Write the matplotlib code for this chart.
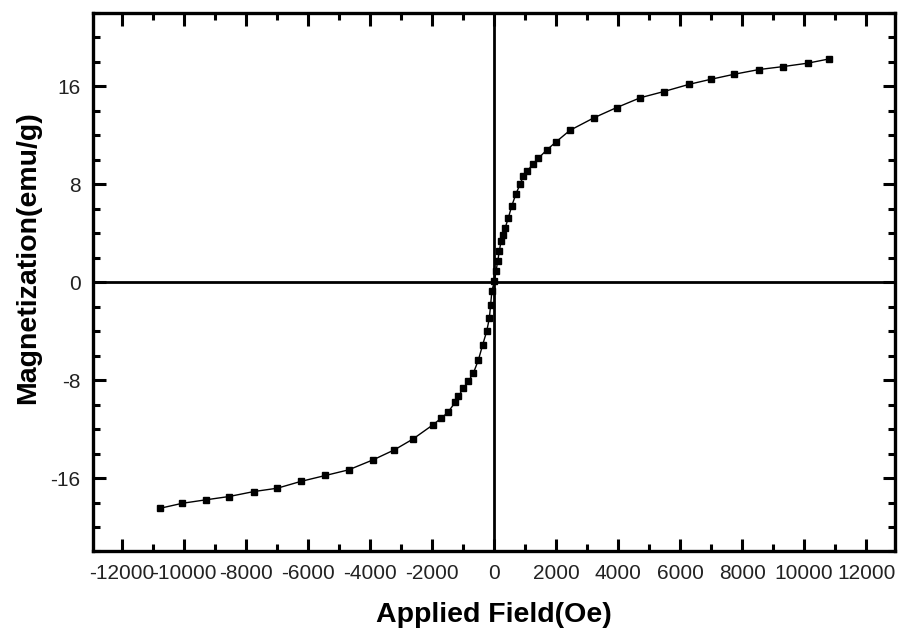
import matplotlib.pyplot as plt
from matplotlib.ticker import MultipleLocator

plt.rcParams['font.family'] = ['Liberation Sans', 'DejaVu Sans']
plt.rcParams['axes.unicode_minus'] = False

# field (Oe) and magnetization (emu/g)
field = [-10770, -10050, -9300, -8550, -7740, -6990, -6240, -5440, -4690,
         -3900, -3210, -2620, -1970, -1700, -1490, -1250, -1150, -990, -830,
         -665, -505, -365, -236, -150, -110, -70, 10, 64, 118, 171, 225, 280,
         354, 461, 569, 708, 837, 943, 1072, 1245, 1426, 1695, 1995, 2445,
         3230, 3950, 4720, 5470, 6300, 7000, 7750, 8540, 9310, 10110, 10810]
magnet = [-18.47, -18.06, -17.78, -17.51, -17.10, -16.83, -16.28, -15.79,
          -15.33, -14.51, -13.69, -12.82, -11.65, -11.10, -10.64, -9.80,
          -9.33, -8.65, -8.10, -7.42, -6.35, -5.10, -4.00, -2.92, -1.83,
          -0.74, 0.08, 0.90, 1.72, 2.54, 3.36, 3.90, 4.40, 5.26, 6.22, 7.23,
          7.99, 8.67, 9.08, 9.63, 10.12, 10.80, 11.46, 12.41, 13.45, 14.27,
          15.08, 15.58, 16.18, 16.59, 17.00, 17.38, 17.62, 17.90, 18.25]

xticks = list(range(-12000, 12001, 2000))
yticks = [-16, -8, 0, 8, 16]

fig = plt.figure(figsize=(8.98, 6.35), dpi=100)
ax = fig.add_axes([0.1036, 0.1315, 0.8931, 0.848])

# zero lines
ax.axhline(0, color='black', lw=2.0, zorder=1)
ax.axvline(0, color='black', lw=2.0, zorder=1)

ax.plot(field, magnet, color='black', lw=1.0, marker='s', ms=4.0,
        zorder=3)

ax.set_xlim(-12930, 12930)
ax.set_ylim(-22, 22)
ax.set_xticks(xticks)
ax.set_yticks(yticks)
ax.xaxis.set_minor_locator(MultipleLocator(1000))
ax.yaxis.set_minor_locator(MultipleLocator(2))

ax.tick_params(which='both', direction='in', top=True, right=True,
               width=2.2, labelsize=15, labelcolor='#222222')
ax.tick_params(which='major', length=9, pad=9)
ax.tick_params(which='minor', length=5)

for s in ax.spines.values():
    s.set_linewidth(2.4)

ax.set_xlabel('Applied Field(Oe)', fontsize=20.5, fontweight='bold')
ax.set_ylabel('Magnetization(emu/g)', fontsize=20.5, fontweight='bold')
ax.xaxis.set_label_coords(0.5, -0.093)
ax.yaxis.set_label_coords(-0.065, 0.546)

fig.savefig('out.png', dpi=100)
